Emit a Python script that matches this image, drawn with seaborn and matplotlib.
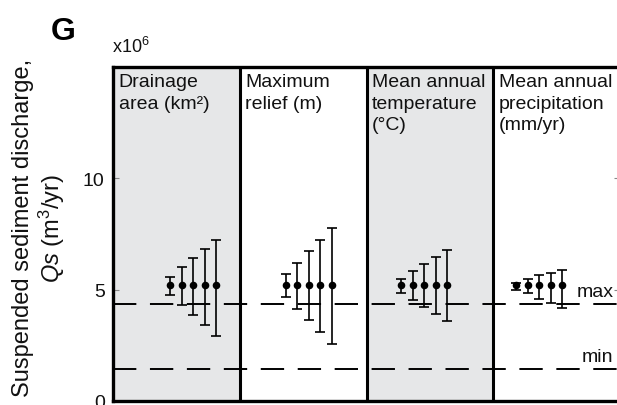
import numpy as np
import pandas as pd
import matplotlib
matplotlib.use("Agg")
import matplotlib.pyplot as plt
import seaborn as sns

# Controls on suspended sediment discharge (units of 10^6 m3/yr)
panels = [
    "Drainage\narea (km²)",
    "Maximum\nrelief (m)",
    "Mean annual\ntemperature\n(°C)",
    "Mean annual\nprecipitation\n(mm/yr)",
]
mean_qs = 5.2
qs_max = 4.35
qs_min = 1.43

# upper / lower bounds of the five runs in each panel
upper_drainage = [5.59, 6.01, 6.41, 6.82, 7.22]
lower_drainage = [4.75, 4.32, 3.87, 3.41, 2.93]
upper_relief = [5.70, 6.20, 6.73, 7.23, 7.76]
lower_relief = [4.65, 4.14, 3.62, 3.09, 2.57]
upper_temp = [5.50, 5.82, 6.14, 6.46, 6.76]
lower_temp = [4.87, 4.53, 4.22, 3.90, 3.59]
upper_precip = [5.32, 5.47, 5.65, 5.74, 5.87]
lower_precip = [4.99, 4.83, 4.60, 4.41, 4.18]

yticks = [0, 5, 10]

uppers = [upper_drainage, upper_relief, upper_temp, upper_precip]
lowers = [lower_drainage, lower_relief, lower_temp, lower_precip]

sns.set_theme(style="white")
plt.rcParams["font.family"] = ["Liberation Sans", "DejaVu Sans"]
plt.rcParams["mathtext.fontset"] = "custom"
plt.rcParams["mathtext.rm"] = "Liberation Sans"
plt.rcParams["mathtext.it"] = "Liberation Sans:italic"

fig = plt.figure(figsize=(6.17, 4.06), dpi=100)
ax = fig.add_axes([113 / 617, 4 / 406, 507 / 617, 334 / 406])

# group layout: start offset inside each panel and spacing between runs
starts = [0.45, 0.362, 0.272, 0.18]
step = 0.091

rows = []
for p, (up, lo) in enumerate(zip(uppers, lowers)):
    for k in range(len(up)):
        rows.append(dict(panel=p, x=p + starts[p] + k * step, mean=mean_qs,
                         upper=up[k], lower=lo[k]))
df = pd.DataFrame(rows)

# shaded panels and dividers
for p in (0, 2):
    ax.axvspan(p, p + 1, color="#e6e7e8", zorder=0, lw=0)
for p in (1, 2, 3):
    ax.axvline(p, color="black", lw=2.2, zorder=3)

# reference lines
ax.axhline(qs_max, color="black", lw=1.4, dashes=(12, 7), zorder=2)
ax.axhline(qs_min, color="black", lw=1.4, dashes=(12, 7), zorder=2)

ax.errorbar(df["x"], df["mean"],
            yerr=[df["mean"] - df["lower"], df["upper"] - df["mean"]],
            fmt="none", ecolor="black", elinewidth=1.2, capsize=3.6,
            capthick=1.2, zorder=4)
sns.scatterplot(data=df, x="x", y="mean", ax=ax, color="black", s=30,
                edgecolor="black", linewidth=0, zorder=5, legend=False)

for p, title in enumerate(panels):
    ax.text(p + 0.045, 14.72, title, ha="left", va="top", fontsize=14,
            linespacing=1.33, color="#111111", zorder=6)

ax.text(3.66, qs_max + 0.2, "max", fontsize=14, ha="left", va="bottom",
        color="#111111", zorder=6)
ax.text(3.7, qs_min + 0.2, "min", fontsize=14, ha="left", va="bottom",
        color="#111111", zorder=6)

ax.set_xlim(0, 4)
ax.set_ylim(0, 15)
ax.set_xticks([])
ax.set_yticks(yticks)
ax.set_yticklabels([str(t) for t in yticks], fontsize=14, color="#111111")
ax.tick_params(axis="y", direction="in", length=4, width=0.8, color="#888888",
               left=True, right=True, pad=6)
ax.set_xlabel("")
ax.set_ylabel("Suspended sediment discharge,\n$Qs$ (m$^3$/yr)", fontsize=17,
              linespacing=1.15, color="#111111")
ax.yaxis.set_label_coords(-0.09, 0.52)

for side in ("left", "top", "bottom", "right"):
    ax.spines[side].set_color("black")
    ax.spines[side].set_linewidth(2.4)

fig.text(51 / 617, 1 - 40 / 406, "G", fontsize=23, fontweight="bold",
         ha="left", va="baseline", color="black")
fig.text(112 / 617, 1 - 53 / 406, "x10$^6$", fontsize=13, ha="left",
         va="baseline", color="#111111")

fig.savefig("out.png", dpi=100)
